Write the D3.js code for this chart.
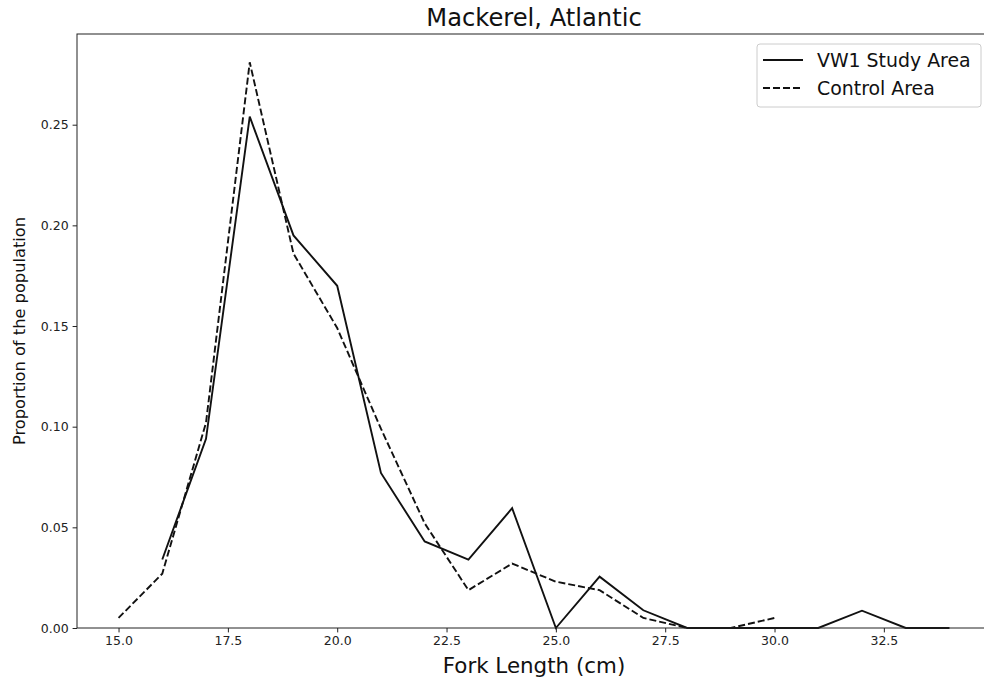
<!DOCTYPE html>
<html>
<head>
<meta charset="utf-8">
<script src="https://cdn.jsdelivr.net/npm/d3@7"></script>
<style>
  body { margin: 0; background: #fff; }
  svg { display: block; font-family: "DejaVu Sans", sans-serif; }
</style>
</head>
<body>
<svg id="chart" width="984" height="682"></svg>
<script>
// fork length bins (cm)
var studyLengths = [16, 17, 18, 19, 20, 21, 22, 23, 24, 25, 26, 27, 28, 29, 30, 31, 32, 33, 34];
var studyValues = [0.034, 0.094, 0.254, 0.195, 0.170, 0.077, 0.043, 0.034, 0.0595, 0.0, 0.0255, 0.0088, 0.0, 0.0, 0.0, 0.0, 0.0086, 0.0, 0.0];

var controlLengths = [15, 16, 17, 18, 19, 20, 21, 22, 23, 24, 25, 26, 27, 28, 29, 30];
var controlValues = [0.005, 0.027, 0.102, 0.281, 0.186, 0.149, 0.099, 0.052, 0.0188, 0.032, 0.023, 0.0188, 0.005, 0.0, 0.0, 0.005];

var xTicks = [15.0, 17.5, 20.0, 22.5, 25.0, 27.5, 30.0, 32.5];
var yTicks = [0.00, 0.05, 0.10, 0.15, 0.20, 0.25];

var seriesNames = ["VW1 Study Area", "Control Area"];

var oMargin = { top: 34, left: 77, bottom: 628, right: 991 };

var svg = d3.select("#chart");

var xMin = d3.min(controlLengths.concat(studyLengths));
var xMax = d3.max(controlLengths.concat(studyLengths));
var xPad = (xMax - xMin) * 0.05;
var yMax = d3.max(controlValues.concat(studyValues)) * 1.05;

var x = d3.scaleLinear().domain([xMin - xPad, xMax + xPad]).range([oMargin.left, oMargin.right]);
var y = d3.scaleLinear().domain([0, yMax]).range([oMargin.bottom, oMargin.top]);

var line = d3.line()
	.x(function (d) { return x(d[0]); })
	.y(function (d) { return y(d[1]); });

var studyData = d3.zip(studyLengths, studyValues);
var controlData = d3.zip(controlLengths, controlValues);

var oPlot = svg.append("g");

oPlot.append("path")
	.datum(studyData)
	.attr("fill", "none")
	.attr("stroke", "#111")
	.attr("stroke-width", 1.9)
	.attr("d", line);

oPlot.append("path")
	.datum(controlData)
	.attr("fill", "none")
	.attr("stroke", "#111")
	.attr("stroke-width", 1.9)
	.attr("stroke-dasharray", "7,3")
	.attr("d", line);

// axes
var xAxis = svg.append("g")
	.attr("transform", "translate(0," + oMargin.bottom + ")")
	.call(d3.axisBottom(x).tickValues(xTicks).tickFormat(d3.format(".1f")).tickSizeOuter(0).tickSize(4.4).tickPadding(4));

var yAxis = svg.append("g")
	.attr("transform", "translate(" + oMargin.left + ",0)")
	.call(d3.axisLeft(y).tickValues(yTicks).tickFormat(d3.format(".2f")).tickSizeOuter(0).tickSize(4.4).tickPadding(4));

[xAxis, yAxis].forEach(function (g) {
	g.selectAll("text").attr("font-size", 12.5).attr("font-family", "DejaVu Sans").attr("fill", "#222");
	g.selectAll("line").attr("stroke", "#222");
	g.select(".domain").remove();
});

// spines
svg.append("rect")
	.attr("x", oMargin.left)
	.attr("y", oMargin.top)
	.attr("width", oMargin.right - oMargin.left)
	.attr("height", oMargin.bottom - oMargin.top)
	.attr("fill", "none")
	.attr("stroke", "#222")
	.attr("stroke-width", 1);

// labels
svg.append("text")
	.attr("x", (oMargin.left + oMargin.right) / 2)
	.attr("y", 26)
	.attr("text-anchor", "middle")
	.attr("font-size", 24.2)
	.attr("fill", "#111")
	.text("Mackerel, Atlantic");

svg.append("text")
	.attr("x", (oMargin.left + oMargin.right) / 2)
	.attr("y", 673)
	.attr("text-anchor", "middle")
	.attr("font-size", 21.4)
	.attr("fill", "#111")
	.text("Fork Length (cm)");

svg.append("text")
	.attr("transform", "translate(24.5," + ((oMargin.top + oMargin.bottom) / 2) + ") rotate(-90)")
	.attr("text-anchor", "middle")
	.attr("font-size", 16.25)
	.attr("fill", "#111")
	.text("Proportion of the population");

// legend
var oLegend = svg.append("g").attr("transform", "translate(757,44)");
oLegend.append("rect")
	.attr("width", 224)
	.attr("height", 63)
	.attr("rx", 3)
	.attr("fill", "#fff")
	.attr("fill-opacity", 0.8)
	.attr("stroke", "#ccc");

seriesNames.forEach(function (sName, i) {
	var oItem = oLegend.append("g").attr("transform", "translate(0," + (16 + i * 28) + ")");
	oItem.append("line")
		.attr("x1", 6).attr("x2", 46)
		.attr("stroke", "#111")
		.attr("stroke-width", 1.9)
		.attr("stroke-dasharray", i === 1 ? "7,3" : null);
	oItem.append("text")
		.attr("x", 60)
		.attr("y", 7)
		.attr("font-size", 18.9)
		.attr("fill", "#111")
		.text(sName);
});
</script>
</body>
</html>
